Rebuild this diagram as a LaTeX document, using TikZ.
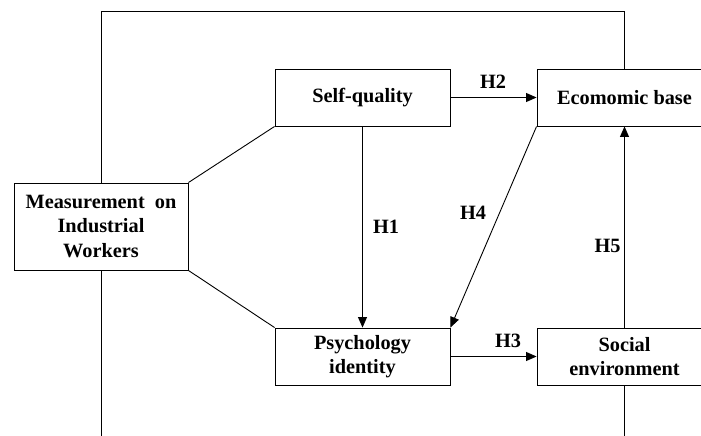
\documentclass[tikz,border=0pt]{standalone}
\usepackage{fontspec}
\setmainfont{Liberation Serif}
\usetikzlibrary{arrows.meta}
\begin{document}
\begin{tikzpicture}[x=1pt,y=-1pt,
  box/.style={draw,line width=0.9pt,minimum width=175pt,minimum height=57pt,inner sep=0pt,align=center,
    font=\fontsize{20.3}{24.5}\selectfont\bfseries},
  link/.style={line width=0.9pt},
  arr/.style={line width=0.9pt,-{Triangle[length=10.5pt,width=9pt]}},
  hlab/.style={font=\fontsize{20.3}{24.5}\selectfont\bfseries,inner sep=0pt}]
\clip (0,0) rectangle (701,436);
\fill[white] (0,0) rectangle (701,436);
\node[box,minimum width=174pt,minimum height=87pt] (m) at (101,226.5) {Measurement\ \ on\\Industrial\\Workers};
\node[box] (s) at (362.5,97.5) {Self-quality};
\node[box] (e) at (624.5,97.5) {Ecomomic base};
\node[box] (p) at (362.5,356.5) {Psychology\\identity};
\node[box] (so) at (624.5,356.5) {Social\\environment};
\coordinate (tl) at (101,11);
\coordinate (tr) at (624.5,11);
\coordinate (bl) at (101,436);
\coordinate (br) at (624.5,436);
\draw[link] (m.north) -- (tl) -- (tr) -- (e.north);
\draw[link] (m.south) -- (bl);
\draw[link] (so.south) -- (br);
\draw[link] (m.north east) -- (s.south west);
\draw[link] (m.south east) -- (p.north west);
\draw[arr] (s.south) -- (p.north);
\draw[arr] (s.east) -- (e.west);
\draw[arr] (p.east) -- (so.west);
\draw[arr] (e.south west) -- (p.north east);
\draw[arr] (so.north) -- (e.south);
\node[hlab] (h1) at (386,227) {H1};
\node[hlab] (h2) at (493,82) {H2};
\node[hlab] (h3) at (508,341) {H3};
\node[hlab] (h4) at (473,213) {H4};
\node[hlab] (h5) at (607.5,246) {H5};
\end{tikzpicture}
\end{document}
